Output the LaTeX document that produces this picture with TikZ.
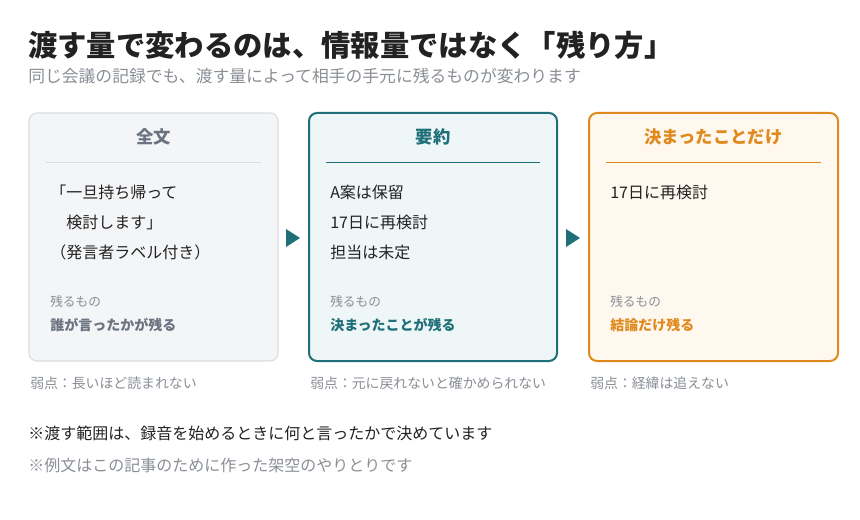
\documentclass[tikz,border=0pt]{standalone}
\usepackage{fontspec}
\setmainfont{Noto Sans CJK JP}
\definecolor{dark}{HTML}{222222}
\definecolor{gry}{HTML}{8A8F96}
\definecolor{teal}{HTML}{1F6F78}
\definecolor{org}{HTML}{E08A1E}
\definecolor{f1}{HTML}{F4F5F7}
\definecolor{b1}{HTML}{D9DCE0}
\definecolor{f2}{HTML}{EFF6F7}
\definecolor{f3}{HTML}{FFF8EF}
\definecolor{hd1}{HTML}{6B7280}
\begin{document}
\begin{tikzpicture}[x=0.75pt,y=-0.75pt,
  box/.style={rounded corners=6pt,line width=1.5pt},
  t/.style={anchor=west,inner sep=0pt,text=dark,font=\fontsize{12}{14}\selectfont},
  hd/.style={anchor=center,inner sep=0pt,font=\bfseries\fontsize{13}{15}\selectfont},
  sm/.style={anchor=west,inner sep=0pt,text=gry,font=\fontsize{9.5}{11}\selectfont},
  kp/.style={anchor=west,inner sep=0pt,font=\bfseries\fontsize{10.5}{12}\selectfont},
  wk/.style={anchor=west,inner sep=0pt,text=gry,font=\fontsize{10.4}{12}\selectfont},
  tri/.style={fill=teal}]
\useasboundingbox[fill=white] (0,0) rectangle (860,520);
\node[anchor=west,inner sep=0pt,text=dark,font=\bfseries\fontsize{22}{24}\selectfont] (title) at (28,45) {渡す量で変わるのは、情報量ではなく「残り方」};
\node[anchor=west,inner sep=0pt,text=gry,font=\fontsize{12.6}{14}\selectfont] (sub) at (28,76) {同じ会議の記録でも、渡す量によって相手の手元に残るものが変わります};
% boxes
\draw[box,fill=f1,draw=b1,line width=0.8pt] (29,113) rectangle (278,361);
\draw[box,fill=f2,draw=teal] (309,113) rectangle (557,361);
\draw[box,fill=f3,draw=org] (589,113) rectangle (838,361);
\node[hd,text=hd1] (h1) at (153.5,137) {全文};
\node[hd,text=teal] (h2) at (433,137) {要約};
\node[hd,text=org] (h3) at (713.5,137) {決まったことだけ};
\draw[b1,line width=0.6pt] (46,162) -- (261,162);
\draw[teal,line width=0.6pt] (326,162) -- (540,162);
\draw[org,line width=0.6pt] (606,162) -- (821,162);
\node[t] (a1) at (50,192) {「一旦持ち帰って};
\node[t] (a2) at (66,222) {検討します」};
\node[t] (a3) at (50,252) {（発言者ラベル付き）};
\node[t] (b1t) at (330,192) {A案は保留};
\node[t] (b2t) at (330,222) {17日に再検討};
\node[t] (b3t) at (330,252) {担当は未定};
\node[t] (c1t) at (610,192) {17日に再検討};
\node[sm] (r1) at (50,302) {残るもの};
\node[sm] (r2) at (330,302) {残るもの};
\node[sm] (r3) at (610,302) {残るもの};
\node[kp,text=hd1] (k1) at (50,325) {誰が言ったかが残る};
\node[kp,text=teal] (k2) at (330,325) {決まったことが残る};
\node[kp,text=org] (k3) at (610,325) {結論だけ残る};
\fill[tri] (286,229) -- (300,238) -- (286,247) -- cycle;
\fill[tri] (566,229) -- (580,238) -- (566,247) -- cycle;
\node[wk] (w1) at (30,383) {弱点：長いほど読まれない};
\node[wk] (w2) at (310,383) {弱点：元に戻れないと確かめられない};
\node[wk] (w3) at (590,383) {弱点：経緯は追えない};
\node[anchor=west,inner sep=0pt,text=dark,font=\fontsize{12}{14}\selectfont] (n1) at (28,433) {※渡す範囲は、録音を始めるときに何と言ったかで決めています};
\node[anchor=west,inner sep=0pt,text=gry,font=\fontsize{12}{14}\selectfont] (n2) at (28,465) {※例文はこの記事のために作った架空のやりとりです};
\end{tikzpicture}
\end{document}
